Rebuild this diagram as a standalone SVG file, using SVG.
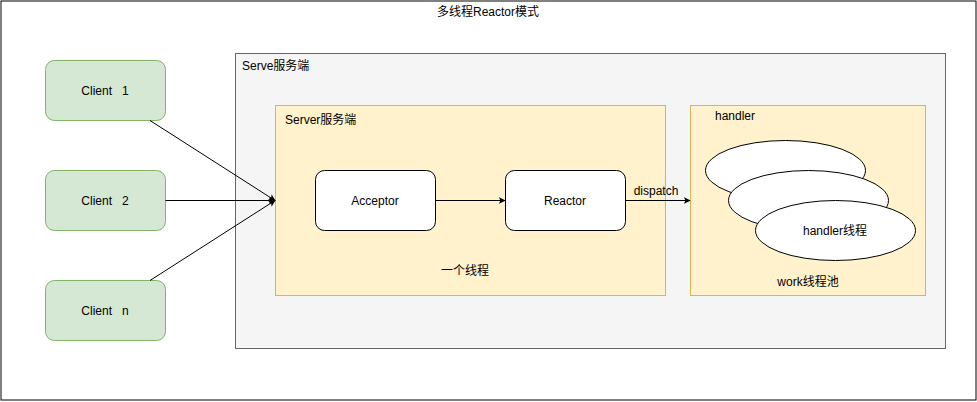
<svg xmlns="http://www.w3.org/2000/svg" width="977" height="402" viewBox="0 0 977 402">
<style>
text{font-family:"Liberation Sans","Noto Sans CJK SC",sans-serif;font-size:12px;fill:#000}
.c{text-anchor:middle}
.pre{white-space:pre}
.client{fill:#d5e8d4;stroke:#82b366}
.box{fill:#fff;stroke:#000}
.yel{fill:#fff2cc;stroke:#d6b656}
.edge{stroke:#000;fill:none;stroke-width:1}
</style>
<defs>
<marker id="ah" viewBox="0 0 10 10" refX="9" refY="5" markerWidth="7" markerHeight="7" orient="auto" markerUnits="userSpaceOnUse">
<path d="M0,0 L10,5 L0,10 L2.5,5 Z" fill="#000"/>
</marker>
</defs>
<rect width="977" height="402" fill="#fff"/>
<g id="frame">
<rect x="1" y="1" width="975" height="399" fill="none" stroke="#000"/>
<text class="c" x="488" y="16">多线程Reactor模式</text>
</g>
<g id="serve">
<rect x="235.5" y="53.5" width="710" height="295" fill="#f5f5f5" stroke="#666"/>
<text x="242" y="70">Serve服务端</text>
</g>
<g id="server">
<rect class="yel" x="275.5" y="105.5" width="390" height="190"/>
<text x="285" y="124">Server服务端</text>
<text class="c" x="465" y="275">一个线程</text>
</g>
<g id="pool">
<rect class="yel" x="690.5" y="105.5" width="235" height="190"/>
<text x="715" y="120">handler</text>
<text class="c" x="808" y="286">work线程池</text>
</g>
<g id="client1"><rect class="client" x="45.5" y="60.5" width="120" height="60" rx="9"/><text class="c pre" x="105" y="95" xml:space="preserve">Client   1</text></g>
<g id="client2"><rect class="client" x="45.5" y="170.5" width="120" height="60" rx="9"/><text class="c pre" x="105" y="205" xml:space="preserve">Client   2</text></g>
<g id="clientn"><rect class="client" x="45.5" y="280.5" width="120" height="60" rx="9"/><text class="c pre" x="105" y="315" xml:space="preserve">Client   n</text></g>
<g id="acceptor"><rect class="box" x="315.5" y="170.5" width="120" height="60" rx="9"/><text class="c" x="375" y="205">Acceptor</text></g>
<g id="reactor"><rect class="box" x="505.5" y="170.5" width="120" height="60" rx="9"/><text class="c" x="565" y="205">Reactor</text></g>
<g id="handler1"><ellipse class="box" cx="785.5" cy="170.5" rx="80" ry="30"/></g>
<g id="handler2"><ellipse class="box" cx="808.5" cy="200.5" rx="80" ry="30"/></g>
<g id="handler3"><ellipse class="box" cx="835.5" cy="230.5" rx="80" ry="30"/><text class="c" x="835" y="235">handler线程</text></g>
<g id="connectors">
<line class="edge" x1="150" y1="120.5" x2="275" y2="200.5" marker-end="url(#ah)"/>
<line class="edge" x1="165.5" y1="200.5" x2="275" y2="200.5" marker-end="url(#ah)"/>
<line class="edge" x1="150" y1="280.5" x2="275" y2="200.5" marker-end="url(#ah)"/>
<line class="edge" x1="435.5" y1="200.5" x2="505" y2="200.5" marker-end="url(#ah)"/>
<line class="edge" x1="625.5" y1="200.5" x2="690" y2="200.5" marker-end="url(#ah)"/>
<text class="c" x="656" y="195">dispatch</text>
</g>
</svg>
